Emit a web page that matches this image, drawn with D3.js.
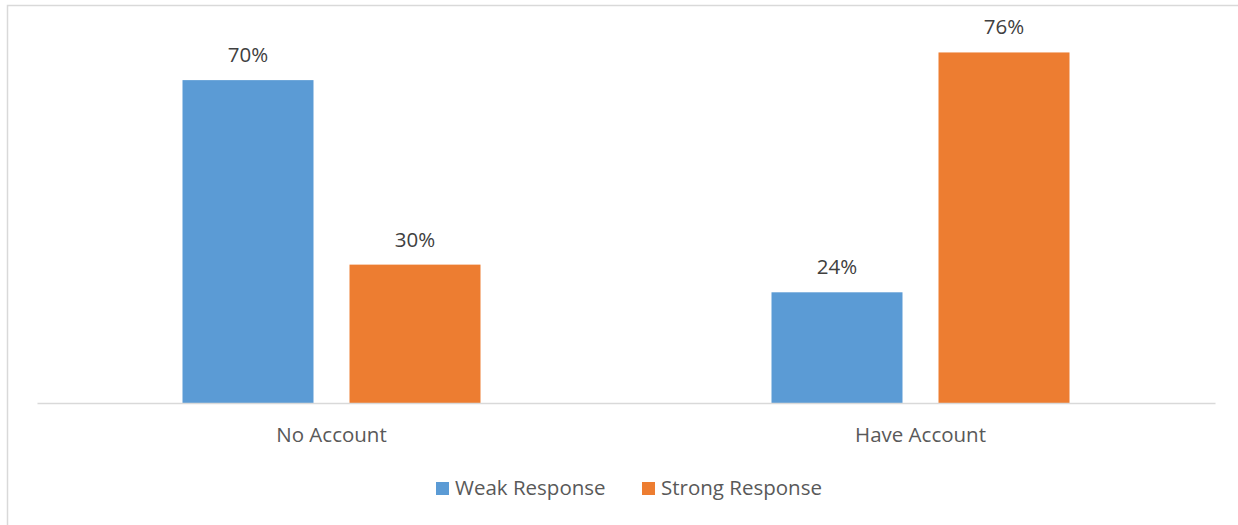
<!DOCTYPE html>
<html><head><meta charset="utf-8">
<script src="https://cdn.jsdelivr.net/npm/d3@7"></script>
<style>body{margin:0;background:#fff}svg{display:block}</style>
</head><body>
<script>
const categories = ["No Account", "Have Account"];
const seriesNames = ["Weak Response", "Strong Response"];
const weakValues = [70, 24];
const strongValues = [30, 76];
const colors = ["#5B9BD5", "#ED7D31"];

const W = 1238, H = 525;
const svg = d3.select("body").append("svg").attr("width", W).attr("height", H);
const font = "'Open Sans', sans-serif";
const fs = 20.5;

svg.append("rect").attr("x", 7.5).attr("y", 5.5).attr("width", 1240).attr("height", 530)
  .attr("fill", "#fff").attr("stroke", "#d9d9d9").attr("stroke-width", 1.5);

const plot = {left: 37, right: 1215, top: 34, bottom: 403};
const x0 = d3.scaleBand().domain(categories).range([plot.left, plot.right]).padding(0);
const x1 = d3.scaleBand().domain(seriesNames).range([x0.bandwidth()/2 - 149, x0.bandwidth()/2 + 149]).paddingInner(0.2156);
const y = d3.scaleLinear().domain([0, 80]).range([plot.bottom, plot.top]);

const data = categories.map((c, i) => ({cat: c, vals: [
  {s: seriesNames[0], v: weakValues[i], c: colors[0]},
  {s: seriesNames[1], v: strongValues[i], c: colors[1]}]}));

const g = svg.selectAll("g.cat").data(data).join("g").attr("class", "cat")
  .attr("transform", d => `translate(${x0(d.cat)},0)`);
g.selectAll("rect").data(d => d.vals).join("rect")
  .attr("x", d => x1(d.s)).attr("width", x1.bandwidth())
  .attr("y", d => y(d.v)).attr("height", d => y(0) - y(d.v)).attr("fill", d => d.c);
g.selectAll("text").data(d => d.vals).join("text")
  .attr("x", d => x1(d.s) + x1.bandwidth()/2).attr("y", d => y(d.v) - 18)
  .attr("text-anchor", "middle").attr("font-family", font).attr("font-size", fs)
  .attr("fill", "#404040").text(d => d.v + "%");

const xAxis = svg.append("g").attr("transform", `translate(0,${plot.bottom})`)
  .call(d3.axisBottom(x0).tickSize(0).tickPadding(24));
xAxis.select(".domain").attr("stroke", "#d9d9d9").attr("stroke-width", 1.5);
xAxis.selectAll("text").attr("font-family", font).attr("font-size", fs).attr("fill", "#595959");

const lg = svg.append("g");
const legendX = [436, 642];
seriesNames.forEach((s, i) => {
  lg.append("rect").attr("x", legendX[i]).attr("y", 482).attr("width", 13).attr("height", 13).attr("fill", colors[i]);
  lg.append("text").attr("x", legendX[i] + 19).attr("y", 495).attr("font-family", font)
    .attr("font-size", fs).attr("fill", "#595959").text(s);
});
</script>
</body></html>
